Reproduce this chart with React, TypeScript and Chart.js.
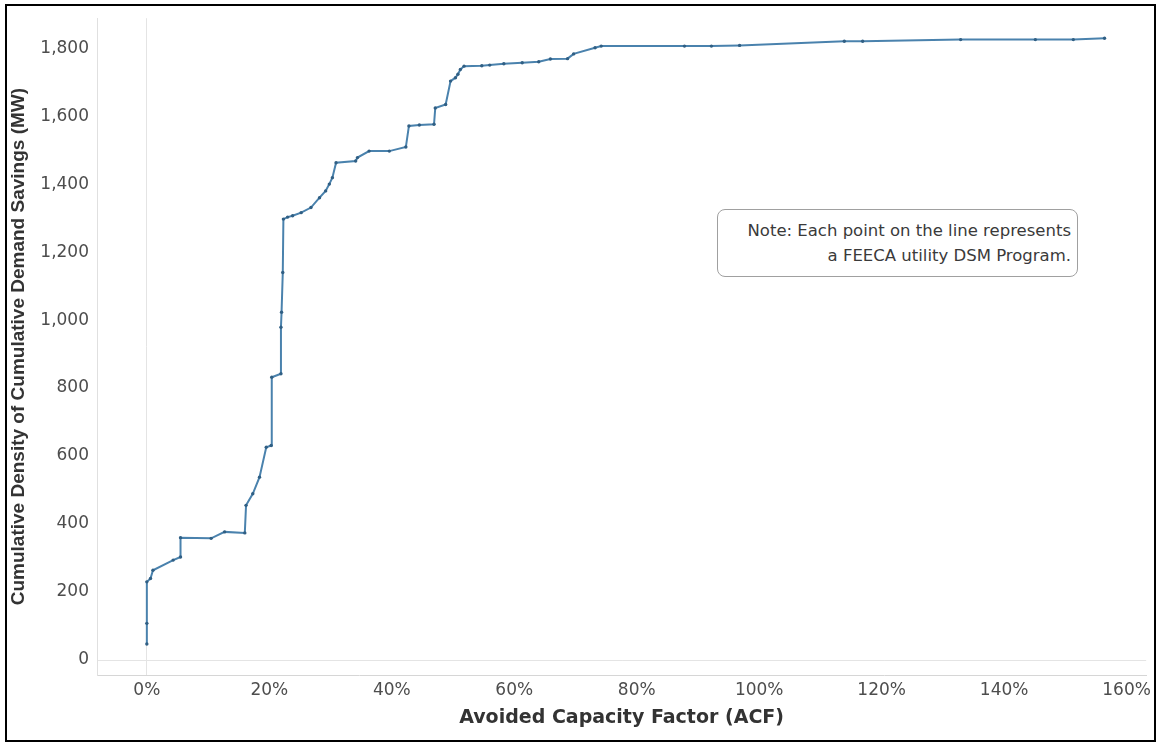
import React, { useEffect, useRef } from "react";
import { Chart, registerables } from "chart.js";

Chart.register(...registerables);

// Avoided Capacity Factor (%) for each FEECA utility DSM program, sorted
const acfPercent = [
  0, 0, 0, 0.6, 1.0, 4.3, 5.5, 5.5, 10.5, 12.7, 16.0, 16.2, 17.3, 18.4, 19.5,
  20.3, 20.4, 21.9, 21.9, 22.0, 22.2, 22.3, 23.0, 23.8, 25.2, 26.8, 28.2, 29.2,
  29.8, 30.3, 30.9, 34.1, 34.4, 36.3, 39.6, 42.3, 42.8, 44.5, 46.9, 47.1, 48.8,
  49.6, 50.4, 50.8, 51.2, 51.8, 54.7, 56.0, 58.3, 61.3, 64.0, 65.9, 68.7, 69.7,
  73.2, 74.2, 87.8, 92.2, 96.8, 113.9, 116.9, 132.9, 145.1, 151.3, 156.4,
];

// Cumulative demand savings (MW)
const cumulativeSavingsMW = [
  47, 108, 230, 240, 264, 294, 303, 360, 358, 377, 374, 455, 489, 538, 626,
  631, 832, 842, 979, 1023, 1140, 1297, 1303, 1307, 1316, 1331, 1360, 1380,
  1400, 1419, 1463, 1468, 1478, 1497, 1497, 1509, 1571, 1574, 1576, 1624, 1634,
  1703, 1713, 1723, 1737, 1747, 1748, 1750, 1754, 1757, 1760, 1768, 1769, 1783,
  1801, 1806, 1806, 1806, 1808, 1820, 1820, 1825, 1825, 1825, 1829,
];

const xTickValues = [0, 20, 40, 60, 80, 100, 120, 140, 160];
const yTickValues = [0, 200, 400, 600, 800, 1000, 1200, 1400, 1600, 1800];

const xTitle = "Avoided Capacity Factor (ACF)";
const yTitle = "Cumulative Density of Cumulative Demand Savings (MW)";
const noteLines = [
  "Note: Each point on the line represents",
  "a FEECA utility DSM Program.",
];

export default function App() {
  const canvasRef = useRef<HTMLCanvasElement | null>(null);

  useEffect(() => {
    const canvas = canvasRef.current;
    if (!canvas) return;
    const points = acfPercent.map((x, i) => ({ x, y: cumulativeSavingsMW[i] }));
    const chart = new Chart(canvas, {
      type: "scatter",
      data: {
        datasets: [
          {
            data: points,
            showLine: true,
            borderColor: "#4a82ad",
            borderWidth: 2,
            pointRadius: 1.7,
            pointBackgroundColor: "#305f84",
            pointBorderColor: "#305f84",
            pointBorderWidth: 0,
            tension: 0,
          },
        ],
      },
      options: {
        animation: false,
        responsive: false,
        layout: { padding: { left: 3, right: 6, top: 10, bottom: 10 } },
        plugins: {
          legend: { display: false },
          tooltip: { enabled: false },
        },
        scales: {
          x: {
            type: "linear",
            min: -8.14,
            max: 163.2,
            afterBuildTicks: (scale: any) => {
              scale.ticks = xTickValues.map((v) => ({ value: v }));
            },
            afterFit: (scale: any) => {
              scale.height = 58;
            },
            ticks: {
              padding: 5,
              color: "#4d4d4d",
              font: { family: "DejaVu Sans", size: 17 },
              callback: (v: any) => `${v}%`,
              maxRotation: 0,
            },
            grid: {
              drawTicks: false,
              color: (ctx: any) =>
                ctx.tick && ctx.tick.value === 0 ? "#e4e4e4" : "rgba(0,0,0,0)",
            },
            border: { display: true, color: "#d6d6d6", width: 1 },
            title: {
              display: true,
              text: xTitle,
              color: "#333333",
              font: { family: "DejaVu Sans", size: 19, weight: "bold" },
              padding: { top: 4, bottom: 4 },
            },
          },
          y: {
            type: "linear",
            min: -44,
            max: 1888,
            afterBuildTicks: (scale: any) => {
              scale.ticks = yTickValues.map((v) => ({ value: v }));
            },
            afterFit: (scale: any) => {
              scale.width = 94;
            },
            ticks: {
              padding: 8,
              color: "#4d4d4d",
              font: { family: "DejaVu Sans", size: 17 },
              callback: (v: any) => Number(v).toLocaleString("en-US"),
            },
            grid: {
              drawTicks: false,
              color: (ctx: any) =>
                ctx.tick && ctx.tick.value === 0 ? "#e4e4e4" : "rgba(0,0,0,0)",
            },
            border: { display: true, color: "#e0e0e0", width: 1 },
            title: {
              display: true,
              text: yTitle,
              color: "#333333",
              font: { family: "Liberation Sans", size: 19, weight: "bold" },
              padding: { top: 4, bottom: 4 },
            },
          },
        },
      },
    } as any);
    return () => chart.destroy();
  }, []);

  return (
    <div
      style={{
        position: "absolute",
        left: 0,
        top: 0,
        width: 1156,
        height: 743,
        background: "#ffffff",
        overflow: "hidden",
      }}
    >
      <canvas
        ref={canvasRef}
        width={1156}
        height={743}
        style={{ display: "block", width: 1156, height: 743 }}
      />
      <div
        style={{
          position: "absolute",
          left: 717,
          top: 209,
          width: 361,
          height: 68,
          boxSizing: "border-box",
          border: "1px solid #a0a0a0",
          borderRadius: 8,
          background: "#ffffff",
          paddingTop: 8,
          paddingRight: 6,
          textAlign: "right",
          fontFamily: "'DejaVu Sans', sans-serif",
          fontSize: 16.5,
          lineHeight: "25px",
          color: "#3a3a3a",
          whiteSpace: "nowrap",
        }}
      >
        {noteLines.map((t, i) => (
          <div key={i}>{t}</div>
        ))}
      </div>
      <div
        style={{
          position: "absolute",
          left: 5,
          top: 4,
          width: 1151,
          height: 738,
          boxSizing: "border-box",
          border: "2px solid #000000",
          pointerEvents: "none",
        }}
      />
    </div>
  );
}
